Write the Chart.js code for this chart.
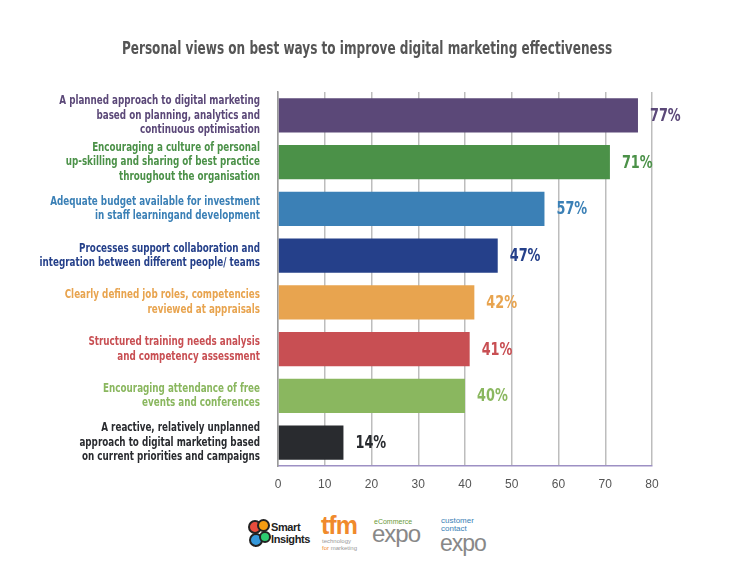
<!DOCTYPE html>
<html>
<head>
<meta charset="utf-8">
<script src="https://cdn.jsdelivr.net/npm/chart.js@4.4.1/dist/chart.umd.min.js"></script>
<style>
  html, body { margin: 0; padding: 0; background: #fff; }
  body { width: 735px; height: 571px; position: relative; overflow: hidden; font-family: 'DejaVu Sans Condensed', sans-serif; }
  #wrap { position: absolute; left: 0; top: 0; width: 735px; height: 500px; }
  #logos { position: absolute; left: 0; top: 505px; width: 735px; height: 60px; }
  .lg { position: absolute; font-family: 'Liberation Sans', Arial, sans-serif; }
</style>
</head>
<body>
<div id="wrap"><canvas id="c" width="735" height="500"></canvas></div>
<div id="logos">
  <div class="lg" style="left:248px;top:14px;width:22px;height:30px;">
    <div style="position:absolute;left:0;top:1px;width:10px;height:10px;border-radius:50%;background:#e84c3d;border:2px solid #222;"></div>
    <div style="position:absolute;left:9px;top:0px;width:9px;height:9px;border-radius:50%;background:#f39c12;border:2px solid #222;"></div>
    <div style="position:absolute;left:1px;top:14px;width:10px;height:10px;border-radius:50%;background:#3498db;border:2px solid #222;"></div>
    <div style="position:absolute;left:11px;top:12px;width:8px;height:8px;border-radius:50%;background:#2ecc71;border:2px solid #222;"></div>
  </div>
  <div class="lg" style="left:271px;top:16px;font-size:11px;font-weight:bold;line-height:12px;color:#222;letter-spacing:-0.4px;">Smart<br>Insights</div>
  <div class="lg" style="left:321px;top:9px;font-size:25px;font-weight:bold;line-height:22px;color:#f08a2c;letter-spacing:-1px;">tfm</div>
  <div class="lg" style="left:322px;top:33px;font-size:6px;line-height:7px;color:#999;">technology<br><span style="color:#f08a2c">for</span> marketing</div>
  <div class="lg" style="left:374px;top:13px;font-size:7px;line-height:8px;color:#6a9a3a;">eCommerce</div>
  <div class="lg" style="left:372px;top:18px;font-size:24px;line-height:22px;color:#888;letter-spacing:-1px;">expo</div>
  <div class="lg" style="left:441px;top:12px;font-size:8px;line-height:8px;color:#3b7fb6;">customer<br>contact</div>
  <div class="lg" style="left:440px;top:27px;font-size:23px;line-height:22px;color:#888;letter-spacing:-1px;">expo</div>
</div>
<script>
const categories = [
  ["A planned approach to digital marketing", "based on planning, analytics and", "continuous optimisation"],
  ["Encouraging a culture of personal", "up-skilling and sharing of best practice", "throughout the organisation"],
  ["Adequate budget available for investment", "in staff learningand development"],
  ["Processes support collaboration and", "integration between different people/ teams"],
  ["Clearly defined job roles, competencies", "reviewed at appraisals"],
  ["Structured training needs analysis", "and competency assessment"],
  ["Encouraging attendance of free", "events and conferences"],
  ["A reactive, relatively unplanned", "approach to digital marketing based", "on current priorities and campaigns"]
];
const values = [77, 71, 57, 47, 42, 41, 40, 14];
const barColors = ["#5b4878", "#4b9148", "#3b80b6", "#25408a", "#e8a44f", "#c84f53", "#8ab75f", "#292b2f"];
const labelColors = ["#5b4878", "#4b9148", "#3b80b6", "#25408a", "#e8a44f", "#c84f53", "#8ab75f", "#292b2f"];
const xTicks = [0, 10, 20, 30, 40, 50, 60, 70, 80];
const titleText = "Personal views on best ways to improve digital marketing effectiveness";

const FONT = "'DejaVu Sans Condensed', 'Liberation Sans Narrow', sans-serif";

// Draws condensed text (narrow bold look) by compressing horizontally
function narrowText(ctx, text, x, y, align, sx) {
  ctx.save();
  ctx.translate(x, y);
  ctx.scale(sx, 1);
  ctx.textAlign = align;
  ctx.fillText(text, 0, 0);
  ctx.restore();
}

const textPlugin = {
  id: 'textPlugin',
  afterDraw(chart) {
    const ctx = chart.ctx;
    const ys = chart.scales.y;
    const area = chart.chartArea;
    ctx.save();
    ctx.textBaseline = 'middle';
    // title
    ctx.font = "bold 17px " + FONT;
    ctx.fillStyle = '#555555';
    narrowText(ctx, titleText, (area.left + area.right) / 2 - 98, 50, 'center', 0.79);
    // category labels
    ctx.font = "bold 12.5px " + FONT;
    const lh = 14.6;
    categories.forEach((lines, i) => {
      const cy = ys.getPixelForValue(i);
      ctx.fillStyle = labelColors[i];
      const y0 = cy - (lines.length - 1) * lh / 2;
      lines.forEach((ln, k) => narrowText(ctx, ln, area.left - 18, y0 + k * lh, 'right', 0.78));
    });
    // value labels
    const meta = chart.getDatasetMeta(0);
    ctx.font = "bold 17px " + FONT;
    meta.data.forEach((bar, i) => {
      ctx.fillStyle = labelColors[i];
      narrowText(ctx, values[i] + '%', bar.x + 12, bar.y + 1, 'left', 0.84);
    });
    ctx.restore();
  }
};

new Chart(document.getElementById('c'), {
  type: 'bar',
  data: {
    labels: categories,
    datasets: [{
      data: values,
      backgroundColor: barColors,
      borderWidth: 0,
      categoryPercentage: 1,
      barPercentage: 0.73
    }]
  },
  options: {
    indexAxis: 'y',
    responsive: false,
    animation: false,
    layout: { padding: { left: 0, right: 83, top: 92, bottom: 0 } },
    plugins: {
      legend: { display: false },
      tooltip: { enabled: false },
      title: { display: false }
    },
    scales: {
      x: {
        min: 0, max: 80,
        afterBuildTicks(scale) { scale.ticks = xTicks.map(v => ({ value: v })); },
        afterFit(scale) { scale.height = 34; },
        grid: { color: '#bdbdbd', lineWidth: 1.5, drawTicks: false },
        border: { display: true, color: '#9d90c4', width: 1.5 },
        ticks: { color: '#555555', padding: 11, font: { family: "'Liberation Sans', Arial, sans-serif", size: 12 } }
      },
      y: {
        afterFit(scale) { scale.width = 278; },
        grid: { display: false, drawTicks: false },
        border: { display: true, color: '#9a9a9a', width: 1.5 },
        ticks: { display: false }
      }
    }
  },
  plugins: [textPlugin]
});
</script>
</body>
</html>
